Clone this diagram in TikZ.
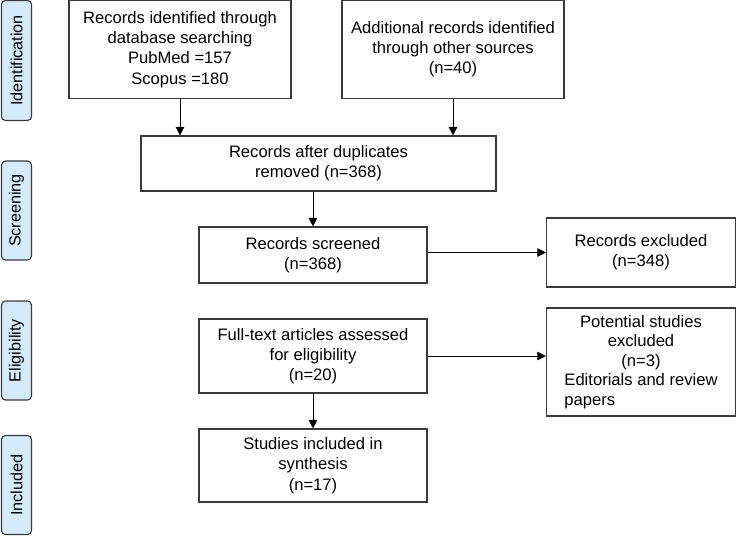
\documentclass[tikz,border=0pt]{standalone}
\usepackage{fontspec}
\setmainfont{Liberation Sans}
\usetikzlibrary{arrows.meta}
\definecolor{labfill}{HTML}{D5EBFB}
\definecolor{edge}{HTML}{3A3A3A}
\tikzset{
  box/.style={draw=edge, line width=1.1pt, fill=white, align=center, inner sep=0pt,
    font=\fontsize{16.6}{20.2}\selectfont},
  sidelab/.style={draw=edge, line width=1.1pt, fill=labfill, rounded corners=4pt,
    rotate=90, inner sep=0pt, minimum height=30pt, font=\fontsize{16.2}{20}\selectfont},
  arr/.style={draw=black, line width=1pt, -{Triangle[length=8.5pt,width=8.5pt]}}
}
\begin{document}
\begin{tikzpicture}[x=1pt,y=-1pt]
\useasboundingbox (0,0) rectangle (738,536);
% side labels
\node[sidelab, minimum width=120pt] (lid) at (16.5,60.5) {Identification};
\node[sidelab, minimum width=99pt] (lsc) at (16.5,210.5) {Screening};
\node[sidelab, minimum width=99pt] (lel) at (16.5,350.5) {Eligibility};
\node[sidelab, minimum width=99pt] (lin) at (16.5,485) {Included};
% boxes
\node[box, minimum width=222pt, minimum height=98pt] (A) at (180,49.5)
  {Records identified through\\database searching\\PubMed =157\\Scopus =180};
\node[box, minimum width=222pt, minimum height=98pt] (B) at (453,49.5)
  {Additional records identified\\through other sources\\(n=40)};
\node[box, minimum width=355pt, minimum height=55pt] (C) at (318.5,163.5)
  {Records after duplicates\\removed (n=368)};
\node[box, minimum width=228pt, minimum height=56pt] (D) at (313,255)
  {Records screened\\(n=368)};
\node[box, minimum width=189pt, minimum height=69pt] (E) at (641,252.5)
  {Records excluded\\(n=348)};
\node[box, minimum width=228pt, minimum height=74pt] (F) at (313,356)
  {Full-text articles assessed\\for eligibility\\(n=20)};
\node[box, minimum width=189pt, minimum height=108pt, font=\fontsize{16.6}{19.4}\selectfont] (G) at (641,362)
  {Potential studies\\excluded\\(n=3)\\Editorials and review\\\rlap{papers}\phantom{Editorials and review}};
\node[box, minimum width=228pt, minimum height=73pt] (H) at (313,465.5)
  {Studies included in\\synthesis\\(n=17)};
% connectors
\draw[arr] (A.south) -- (A.south |- C.north);
\draw[arr] (B.south) -- (B.south |- C.north);
\draw[arr] (D.north |- C.south) -- (D.north);
\draw[arr] (D.east |- E.west) -- (E.west);
\draw[arr] (F.east) -- (F.east -| G.west);
\draw[arr] (F.south) -- (H.north);
\end{tikzpicture}
\end{document}
